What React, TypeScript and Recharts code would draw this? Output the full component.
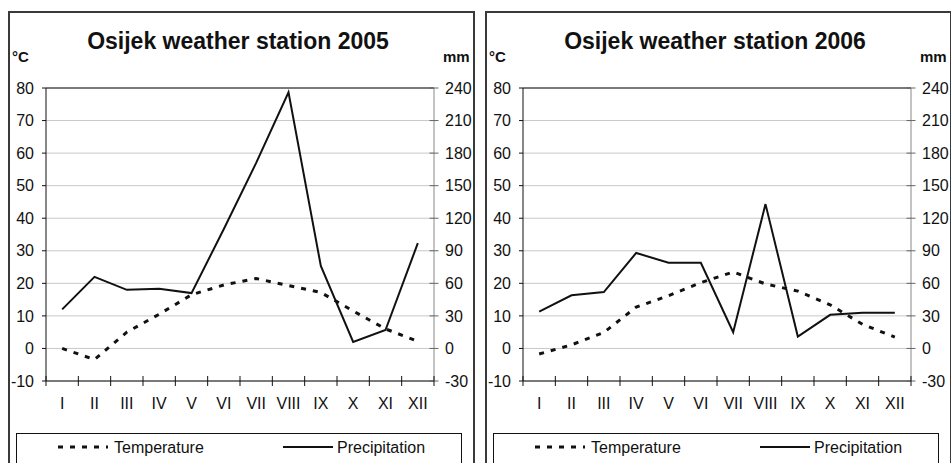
import { CartesianGrid, Line, LineChart, ReferenceLine, XAxis, YAxis } from "recharts"

const months = ["I", "II", "III", "IV", "V", "VI", "VII", "VIII", "IX", "X", "XI", "XII"]

// mean monthly temperature, °C
const temp2005 = [0, -3.4, 5, 10.5, 16.5, 19.5, 21.5, 19.3, 17.2, 11.5, 6, 2.2]
const temp2006 = [-1.7, 1.1, 4.9, 12.7, 16.2, 20.2, 23.5, 19.8, 17.6, 13.4, 7.4, 3.5]

// monthly precipitation, mm
const precip2005 = [36, 66, 54, 55, 51, 110, 171, 236, 76, 6, 17, 97]
const precip2006 = [34, 49, 52, 88, 79, 79, 15, 133, 11, 31, 33, 33]

const tempTicks = [-10, 0, 10, 20, 30, 40, 50, 60, 70, 80]
const precipTicks = [-30, 0, 30, 60, 90, 120, 150, 180, 210, 240]

const font = '"Liberation Sans", Arial, sans-serif'
const ink = "#111"

const series = [
  { key: "temp", name: "Temperature", dash: "5 7", width: 3, sampleX: 41, textX: 97 },
  { key: "precip", name: "Precipitation", dash: undefined, width: 2, sampleX: 266, textX: 320 },
]

const X_TICK_SIZE = 6
const X_TICK_MARGIN = 11

// month label, plus tick marks on the category boundaries crossing the axis
function MonthTick(props: any) {
  const { x, y, payload, index, visibleTicksCount, width } = props
  const half = payload.offset ?? width / visibleTicksCount / 2
  const axisY = y - X_TICK_SIZE - X_TICK_MARGIN
  return (
    <g>
      <line x1={x - half} x2={x - half} y1={axisY - 5} y2={axisY + 5} stroke={ink} />
      {index === visibleTicksCount - 1 && (
        <line x1={x + half} x2={x + half} y1={axisY - 5} y2={axisY + 5} stroke={ink} />
      )}
      <text x={x} y={y} dy="0.71em" textAnchor="middle" fontFamily={font} fontSize={16} fill={ink}>
        {payload.value}
      </text>
    </g>
  )
}

function Panel({ left, title, temp, precip }: { left: number; title: string; temp: number[]; precip: number[] }) {
  const data = months.map((m, i) => ({ month: m, temp: temp[i], precip: precip[i] }))
  const tickStyle = { fontSize: 16, fill: ink, fontFamily: font }

  return (
    <div
      style={{
        position: "absolute",
        left,
        top: 11,
        width: 463,
        height: 470,
        border: "2px solid #3a3a3a",
        background: "#fff",
      }}
    >
      <svg width={463} height={60} style={{ position: "absolute", left: 0, top: 0 }}>
        <text x={228} y={36} textAnchor="middle" fontFamily={font} fontWeight="bold" fontSize={23} fill={ink}>
          {title}
        </text>
        <text x={2} y={49} fontFamily={font} fontWeight="bold" fontSize={15} fill={ink}>
          °C
        </text>
        <text x={433} y={49} fontFamily={font} fontWeight="bold" fontSize={15} fill={ink}>
          mm
        </text>
      </svg>

      <div style={{ position: "absolute", left: 0, top: 0 }}>
        <LineChart width={463} height={420} data={data} margin={{ top: 75, right: 0, bottom: 22, left: 0 }}>
          <CartesianGrid yAxisId="t" vertical={false} stroke="#c8c8c8" />
          <XAxis
            dataKey="month"
            scale="band"
            interval={0}
            height={30}
            axisLine={{ stroke: ink }}
            tickLine={false}
            tickSize={X_TICK_SIZE}
            tickMargin={X_TICK_MARGIN}
            tick={<MonthTick />}
          />
          <YAxis
            yAxisId="t"
            orientation="left"
            domain={[-10, 80]}
            ticks={tempTicks}
            interval={0}
            width={36}
            tickSize={4}
            tickMargin={8}
            axisLine={{ stroke: ink }}
            tickLine={{ stroke: ink }}
            tick={tickStyle}
          />
          <YAxis
            yAxisId="p"
            orientation="right"
            domain={[-30, 240]}
            ticks={precipTicks}
            interval={0}
            width={39}
            tickSize={9}
            tickMargin={2}
            axisLine={{ stroke: "#888" }}
            tickLine={{ stroke: "#666", transform: "translate(-4.5,0)" }}
            tick={tickStyle}
          />
          <ReferenceLine yAxisId="t" y={80} stroke={ink} />
          <Line
            yAxisId="t"
            dataKey="temp"
            name="Temperature"
            stroke={ink}
            strokeWidth={3}
            strokeDasharray="5 7"
            dot={false}
            isAnimationActive={false}
          />
          <Line
            yAxisId="p"
            dataKey="precip"
            name="Precipitation"
            stroke={ink}
            strokeWidth={2}
            dot={false}
            isAnimationActive={false}
          />
        </LineChart>
      </div>

      <div
        style={{
          position: "absolute",
          left: 6,
          top: 420,
          width: 444,
          height: 40,
          border: "1.5px solid #111",
          fontFamily: font,
          fontSize: 16,
          color: ink,
        }}
      >
        <svg width={444} height={30} style={{ position: "absolute", left: 0, top: 0 }}>
          {series.map((s) => (
            <g key={s.key}>
              <line
                x1={s.sampleX}
                x2={s.sampleX + 50}
                y1={13}
                y2={13}
                stroke={ink}
                strokeWidth={s.width}
                strokeDasharray={s.dash}
              />
              <text x={s.textX} y={19} fontFamily={font} fontSize={16} fill={ink}>
                {s.name}
              </text>
            </g>
          ))}
        </svg>
      </div>
    </div>
  )
}

export default function App() {
  return (
    <div
      style={{
        position: "absolute",
        left: 0,
        top: 0,
        width: 951,
        height: 463,
        overflow: "hidden",
        background: "#fff",
      }}
    >
      <Panel left={8} title="Osijek weather station 2005" temp={temp2005} precip={precip2005} />
      <Panel left={485} title="Osijek weather station 2006" temp={temp2006} precip={precip2006} />
    </div>
  )
}
